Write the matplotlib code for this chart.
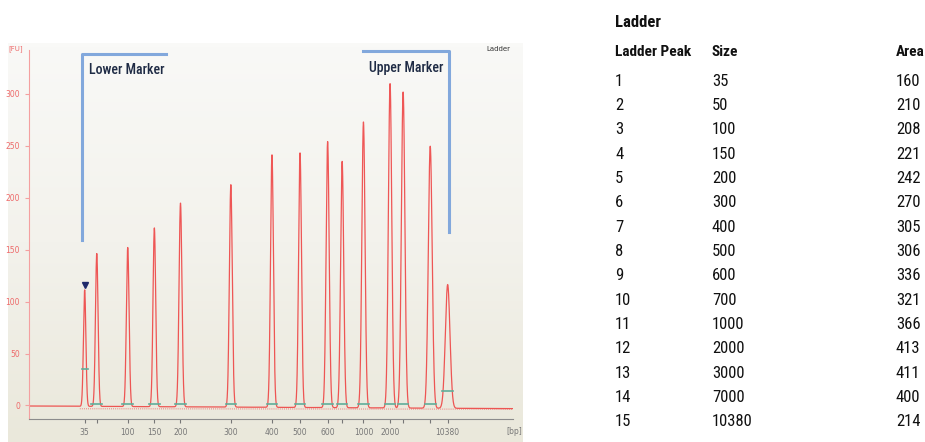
import numpy as np
import matplotlib
matplotlib.use("Agg")
import matplotlib.pyplot as plt
from matplotlib.colors import LinearSegmentedColormap

# ladder data
ladder_peak = list(range(1, 16))
sizes = [35, 50, 100, 150, 200, 300, 400, 500, 600, 700, 1000, 2000, 3000, 7000, 10380]
areas = [160, 210, 208, 221, 242, 270, 305, 306, 336, 321, 366, 413, 411, 400, 214]

# electropherogram peaks (migration position, height in FU, width)
peak_pos = [11.5, 14.0, 20.4, 25.9, 31.3, 41.7, 50.2, 56.0, 61.7, 64.7, 69.1, 74.6, 77.3, 82.9, 86.5]
peak_fu = [112, 147, 153, 172, 196, 214, 243, 245, 256, 237, 275, 312, 304, 252, 119]
peak_w = [0.25, 0.27, 0.28, 0.28, 0.3, 0.3, 0.3, 0.3, 0.32, 0.32, 0.33, 0.35, 0.36, 0.4, 0.48]
base_fu = [35, 1, 1, 1, 1, 1, 1, 1, 1, 1, 1, 1, 1, 1, 14]

xtick_pos = peak_pos
xtick_lbl = ['35', '', '100', '150', '200', '300', '400', '500', '600', '', '1000', '2000', '', '', '10380']
yticks = [0, 50, 100, 150, 200, 250, 300]

W, H = 925, 442
fig = plt.figure(figsize=(W / 100, H / 100), dpi=100)

def fx(px):
    return px / W

def fy(py):
    return 1 - py / H

# panel background
bg = fig.add_axes([fx(8), 0, fx(523) - fx(8), fy(43)])
cmap = LinearSegmentedColormap.from_list('bg', ['#f9f9f7', '#f3f2ec', '#eae8db'])
bg.imshow(np.linspace(0, 1, 100).reshape(-1, 1), cmap=cmap, aspect='auto',
          extent=[0, 1, 0, 1], interpolation='bilinear')
bg.axis('off')

ax = fig.add_axes([fx(29), fy(419), fx(513) - fx(29), fy(50) - fy(419)])
ax.set_facecolor('none')

x = np.linspace(0, 100, 5000)
y = np.interp(x, [0, 100], [-0.5, -3.0])
for p, h, w in zip(peak_pos, peak_fu, peak_w):
    y = y + h * np.exp(-(x - p) ** 2 / (2 * w ** 2))
ax.plot(x, y, color='#ee3b3b', lw=0.9, alpha=0.85)
ax.plot([peak_pos[0] - 1, 100], [-3.2, -3.5], color='#ee5555', lw=0.6, ls=(0, (1, 1.5)))

for p, b in zip(peak_pos, base_fu):
    half = 0.6 if b == 35 else 1.1
    ax.plot([p - half, p + half], [b, b], color='#5fae9a', lw=1.2)

ax.plot(peak_pos[0], peak_fu[0] + 4, marker='v', color='#1f2a6b', ms=4.5)

ax.set_xlim(0, 100)
ax.set_ylim(-13, 342)
ax.set_yticks(yticks)
ax.set_xticks(xtick_pos)
ax.set_xticklabels(xtick_lbl)
for s in ['top', 'right']:
    ax.spines[s].set_visible(False)
ax.spines['left'].set_color('#f4a0a0')
ax.spines['bottom'].set_color('#8c8c8c')
ax.tick_params(axis='y', colors='#f4a0a0', labelcolor='#ee6a6a', labelsize=5.5, length=3, width=0.8)
ax.tick_params(axis='x', colors='#777777', labelcolor='#777777', labelsize=5.5, length=3, width=0.8)

fig.text(fx(16), fy(49), '[FU]', color='#ee6a6a', fontsize=5, ha='center', va='center')
fig.text(fx(514), fy(431), '[bp]', color='#777777', fontsize=5.5, ha='center', va='center')
fig.text(fx(498), fy(49), 'Ladder', color='#333333', fontsize=5, ha='center', va='center')

narrow = ['Roboto Condensed', 'DejaVu Sans Condensed', 'Liberation Sans Narrow', 'DejaVu Sans']
tkw = dict(family=narrow, fontstretch='condensed')
blue = '#82a8dc'
# lower marker bracket
fig.add_artist(plt.Line2D([fx(82), fx(82), fx(166)], [fy(240), fy(54), fy(54)],
                          color=blue, lw=2.2, transform=fig.transFigure))
fig.text(fx(89), fy(69.5), 'Lower Marker', fontsize=10, weight='medium', color='#1f2b45',
         ha='left', va='center', **tkw)
# upper marker bracket
fig.add_artist(plt.Line2D([fx(363), fx(449), fx(449)], [fy(51), fy(51), fy(232)],
                          color=blue, lw=2.2, transform=fig.transFigure))
fig.text(fx(369), fy(68), 'Upper Marker', fontsize=10, weight='medium', color='#1f2b45',
         ha='left', va='center', **tkw)

# table
col_x = [615, 712, 896]
fig.text(fx(615), fy(22.5), 'Ladder', fontsize=12, weight='bold',
         color='#111111', ha='left', va='center', **tkw)
for cx, hdr in zip(col_x, ['Ladder Peak', 'Size', 'Area']):
    fig.text(fx(cx), fy(51.5), hdr, fontsize=11, weight='bold',
             color='#111111', ha='left', va='center', **tkw)
for i, (n, s, a) in enumerate(zip(ladder_peak, sizes, areas)):
    ry = 81 + i * 24.34
    for cx, val in zip(col_x, [n, s, a]):
        fig.text(fx(cx), fy(ry), str(val), fontsize=12,
                 color='#111111', ha='left', va='center', **tkw)

fig.savefig('out.png', dpi=100)
